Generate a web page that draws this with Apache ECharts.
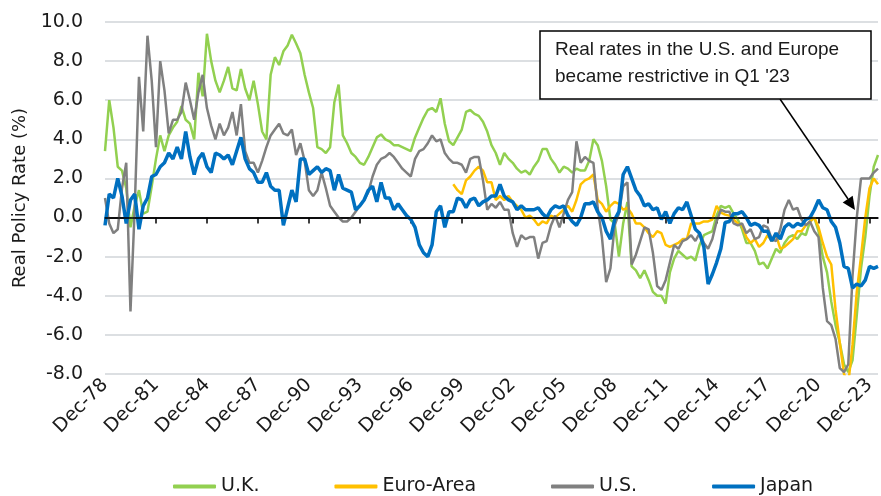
<!DOCTYPE html>
<html>
<head>
<meta charset="utf-8">
<script src="https://cdn.jsdelivr.net/npm/echarts@6/dist/echarts.min.js"></script>
<style>
  html, body { margin: 0; padding: 0; background: #fff; }
  #chart { width: 881px; height: 496px; }
</style>
</head>
<body>
<div id="chart"></div>
<script>
// quarterly observations, Dec-78 .. Jun-24
const tickLabels = ['Dec-78', 'Dec-81', 'Dec-84', 'Dec-87', 'Dec-90', 'Dec-93', 'Dec-96', 'Dec-99',
  'Dec-02', 'Dec-05', 'Dec-08', 'Dec-11', 'Dec-14', 'Dec-17', 'Dec-20', 'Dec-23'];

const uk = [
  3.4, 6.0, 4.6, 2.6, 2.4, 1.5, -0.5, 0.6, 1.4, 0.2,
  0.3, 1.6, 3.0, 4.2, 3.4, 4.2, 4.6, 4.9, 5.7, 5.0,
  4.8, 4.0, 7.4, 6.2, 9.4, 8.0, 7.0, 6.4, 7.0, 7.7,
  6.6, 6.5, 7.6, 6.6, 6.0, 7.0, 5.8, 4.4, 4.0, 7.3,
  8.2, 7.8, 8.5, 8.8, 9.35, 8.9, 8.4, 7.3, 6.4, 5.6,
  3.6, 3.5, 3.3, 3.6, 5.9, 6.8, 4.2, 3.8, 3.3, 3.1,
  2.8, 2.7, 3.1, 3.6, 4.1, 4.25, 4.0, 3.9, 3.7, 3.7,
  3.6, 3.5, 3.4, 4.1, 4.6, 5.1, 5.5, 5.6, 5.4, 6.1,
  4.8, 3.9, 3.7, 4.1, 4.5, 5.4, 5.5, 5.3, 5.2, 4.9,
  4.4, 3.7, 3.3, 2.7, 3.3, 3.0, 2.8, 2.5, 2.3, 2.4,
  2.2, 2.6, 2.9, 3.5, 3.5, 3.0, 2.7, 2.3, 2.6, 2.5,
  2.3, 2.5, 2.4, 2.4, 2.9, 4.0, 3.7, 2.9, 1.6, -0.1,
  -0.3, -2.0, -0.3, 0.8, -2.5, -2.7, -3.1, -2.7, -3.2, -3.8,
  -4.0, -4.0, -4.4, -2.8, -2.1, -1.7, -1.9, -2.1, -2.0, -2.2,
  -1.4, -0.9, -0.8, -0.7, 0.1, 0.6, 0.5, 0.6, 0.2, -0.1,
  -0.6, -1.3, -1.3, -1.7, -2.4, -2.3, -2.6, -2.1, -1.6, -1.8,
  -1.3, -1.0, -0.9, -1.1, -0.8, -0.9, -0.2, 0.0, -0.7, -2.0,
  -2.8, -4.3, -5.5, -6.4, -7.5, -7.9, -7.3, -5.0, -2.6, -1.0,
  1.1, 2.6, 3.2
];

// euro area starts Jun-99 (83rd quarter)
const euroStart = 82;
const euroArea = [
  1.7, 1.4, 1.2, 1.9, 2.1, 2.4, 2.6, 2.4,
  1.8, 1.8, 0.9, 1.1, 0.9, 1.1, 0.8, 0.6, 0.4, 0.0,
  0.1, -0.1, -0.4, -0.2, -0.3, 0.1, 0.0, 0.2, 0.4, 0.6,
  0.3, 0.9, 1.7, 1.9, 2.0, 2.2, 0.9, 0.7, 0.3, 0.6,
  0.8, 0.7, 0.4, 0.5, 0.2, -0.3, -0.3, -0.5, -0.8, -1.0,
  -0.7, -0.8, -1.4, -1.5, -1.4, -1.3, -1.1, -1.1, -0.3, -0.3,
  -0.3, -0.2, -0.2, -0.1, 0.6, 0.25, 0.15, 0.1, -0.1, -0.3,
  -0.4, -1.0, -1.3, -1.1, -1.5, -1.3, -0.9, -1.2, -0.9, -1.6,
  -1.5, -1.3, -1.1, -0.7, -0.7, -0.4, -0.2, 0.0, -0.5, -1.3,
  -2.0, -2.4, -4.7, -6.4, -8.0, -8.5, -6.5, -3.8, -2.0, 0.0,
  1.5, 2.0, 1.7
];

const us = [
  1.0, -0.3, -0.8, -0.6, 1.5, 2.8, -4.8, 0.5, 7.2, 4.4,
  9.3, 7.0, 3.6, 8.0, 6.5, 4.3, 5.0, 5.0, 5.4, 6.9,
  6.0, 5.0, 6.4, 7.3, 5.6, 4.7, 4.0, 4.8, 4.2, 4.6,
  5.4, 4.2, 5.8, 3.4, 2.8, 2.8, 2.3, 2.9, 3.6, 4.2,
  4.5, 4.8, 4.3, 4.2, 4.5, 3.2, 3.8, 2.9, 1.4, 1.1,
  1.4, 2.3, 1.5, 0.6, 0.3, 0.0, -0.2, -0.2, 0.0, 0.3,
  0.6, 0.9, 1.3, 2.1, 2.7, 3.0, 3.1, 3.3, 3.1, 2.8,
  2.5, 2.3, 2.1, 3.0, 3.4, 3.5, 3.8, 4.2, 3.9, 4.0,
  3.3, 3.0, 2.8, 2.8, 2.7, 2.3, 3.0, 3.1, 3.1, 1.9,
  0.4, 0.7, 0.5, 0.8, 0.4, 0.4, -0.8, -1.5, -0.9, -1.1,
  -1.0, -1.0, -2.1, -1.3, -1.2, -0.4, 0.1, -0.5, 0.2, 0.9,
  1.3, 3.9, 2.8, 3.1, 2.9, 2.8, 0.5, -1.0, -3.3, -2.6,
  -0.4, 0.2, 1.6, 1.8, -2.4, -1.9, -1.2, -0.5, -0.6, -1.8,
  -3.5, -3.7, -3.2, -2.3, -1.4, -1.6, -1.2, -1.1, -0.9, -1.2,
  -0.8, -1.3, -1.6, -1.1, -0.2, 0.4, 0.3, 0.3, -0.3, -0.4,
  -0.3, -0.8, -0.6, -1.1, -1.0, -0.4, -0.5, -1.1, -1.2, -0.6,
  0.4, 0.9, 0.4, 0.5, -0.1, -0.4, -0.2, -0.7, -1.0, -3.6,
  -5.3, -5.5, -6.2, -7.7, -7.9, -7.5, -3.0, 0.0, 2.0, 2.0,
  2.0, 2.3, 2.5
];

const japan = [
  -0.4, 1.2, 1.0, 2.0, 1.1, -0.3, 0.9, 1.2, -0.6, 0.6,
  1.0, 2.1, 2.2, 2.6, 2.8, 3.3, 3.0, 3.6, 3.0, 4.4,
  3.1, 2.2, 3.0, 3.3, 2.6, 2.3, 3.3, 3.2, 3.0, 3.2,
  2.7, 3.4, 4.1, 3.0, 2.5, 2.3, 1.8, 1.8, 2.3, 1.6,
  1.4, 1.4, -0.4, 0.5, 1.4, 0.8, 3.0, 3.0, 2.2, 2.4,
  2.6, 2.3, 2.5, 2.4, 1.4, 2.2, 1.5, 1.4, 1.3, 0.4,
  0.6, 0.9, 1.4, 1.6, 0.8, 1.8, 1.0, 1.0, 0.4, 0.7,
  0.4, 0.1, -0.1, -0.5, -1.4, -1.8, -2.0, -1.4, 0.3, 0.6,
  -0.5, 0.3, 0.3, 1.0, 0.9, 0.5, 0.9, 1.0, 0.6, 0.8,
  0.9, 1.1, 1.1, 1.7, 1.1, 0.9, 0.8, 0.4, 0.6, 0.4,
  0.4, 0.4, 0.5, 0.2, 0.0, 0.4, 0.6, 0.5, 0.6, 0.1,
  -0.2, -0.4, 0.0, 0.7, 0.7, 0.8, 0.3, 0.0, -0.7, -1.1,
  -0.1, 0.3, 2.2, 2.6, 2.0, 1.4, 1.1, 0.6, 0.7, 0.4,
  0.5, -0.1, 0.3, -0.3, 0.2, 0.5, 0.4, 0.8, 0.1, -0.6,
  -0.8, -1.5, -3.4, -2.9, -2.3, -1.6, -0.25, -0.2, 0.2, 0.2,
  0.3, 0.0, -0.4, -0.3, -0.4, -0.7, -0.7, -1.2, -0.8, -1.1,
  -0.5, -0.3, -0.5, -0.3, -0.4, -0.1, 0.0, 0.4, 0.9, 0.5,
  0.4, -0.2, -0.5, -1.3, -2.5, -2.6, -3.6, -3.4, -3.5, -3.2,
  -2.5, -2.6, -2.5
];

// category labels: one per quarter from Dec-78
const months = ['Dec', 'Mar', 'Jun', 'Sep'];
let categories = [];
for (let i = 0; i < uk.length; i++) {
  let yr = 1978 + Math.floor((i + 3) / 4);
  categories.push(months[i % 4] + '-' + String(yr).slice(2));
}

const euroData = new Array(euroStart).fill(null).concat(euroArea);

const axisFont = 'DejaVu Sans';
const showTick = (idx, val) => tickLabels.includes(val);
const plotBox = { left: 105, right: 3, top: 22, bottom: 122 };

const chart = echarts.init(document.getElementById('chart'));

let option = {
  animation: false,
  // grid 0 holds the lines, grid 1 (same box) only carries the date labels at the bottom
  grid: [plotBox, Object.assign({}, plotBox)],
  legend: {
    left: 168,
    top: 472,
    itemGap: 75,
    itemWidth: 43,
    itemHeight: 4,
    icon: 'roundRect',
    textStyle: { fontFamily: axisFont, fontSize: 19, color: '#1a1a1a' },
    data: ['U.K.', 'Euro-Area', 'U.S.', 'Japan']
  },
  xAxis: [
    {
      gridIndex: 0,
      type: 'category',
      data: categories,
      boundaryGap: false,
      z: 1,
      axisLine: { show: true, onZero: true, lineStyle: { color: '#000', width: 1.5 } },
      axisTick: { show: true, interval: showTick, length: 6, lineStyle: { color: '#000', width: 1.5 } },
      axisLabel: { show: false },
      splitLine: { show: false }
    },
    {
      gridIndex: 1,
      type: 'category',
      data: categories,
      boundaryGap: false,
      axisLine: { show: false, onZero: false },
      axisTick: { show: false },
      splitLine: { show: false },
      axisLabel: {
        interval: showTick,
        rotate: 45,
        margin: 8,
        fontFamily: axisFont,
        fontSize: 19,
        color: '#1a1a1a'
      }
    }
  ],
  yAxis: [
    {
      gridIndex: 0,
      type: 'value',
      min: -8,
      max: 10,
      interval: 2,
      name: 'Real Policy Rate (%)',
      nameLocation: 'middle',
      nameGap: 50,
      nameTextStyle: { fontFamily: axisFont, fontSize: 18, color: '#1a1a1a' },
      axisLine: { show: false },
      axisTick: { show: false },
      splitLine: { lineStyle: { color: '#d0d4d9', width: 1.5 } },
      axisLabel: {
        margin: 22,
        fontFamily: axisFont,
        fontSize: 19,
        color: '#1a1a1a',
        formatter: v => v.toFixed(1)
      }
    },
    {
      gridIndex: 1,
      type: 'value',
      min: -8,
      max: 10,
      show: false
    }
  ],
  series: [
    {
      // carrier for the black zero line, drawn beneath the data lines
      name: 'zero',
      type: 'line',
      data: categories.map(() => null),
      showSymbol: false,
      silent: true,
      markLine: {
        silent: true,
        symbol: ['none', 'none'],
        label: { show: false },
        lineStyle: { color: '#000', width: 1.5, type: 'solid' },
        data: [{ yAxis: 0 }]
      }
    },
    { name: 'U.K.', type: 'line', data: uk, showSymbol: false, color: '#92d050', lineStyle: { width: 2.5 } },
    { name: 'Euro-Area', type: 'line', data: euroData, showSymbol: false, color: '#ffc000', lineStyle: { width: 2.5 } },
    { name: 'U.S.', type: 'line', data: us, showSymbol: false, color: '#808080', lineStyle: { width: 2.5 } },
    { name: 'Japan', type: 'line', data: japan, showSymbol: false, color: '#0070c0', lineStyle: { width: 3.5 } }
  ],
  graphic: [
    {
      type: 'rect',
      shape: { x: 540, y: 31, width: 331, height: 68 },
      style: { fill: '#fff', stroke: '#000', lineWidth: 1.5 },
      z: 10
    },
    {
      type: 'text',
      left: 555,
      top: 36,
      style: {
        text: "Real rates in the U.S. and Europe\nbecame restrictive in Q1 '23",
        font: '19px "Liberation Sans"',
        lineHeight: 27,
        fill: '#1a1a1a'
      },
      z: 11
    },
    {
      type: 'line',
      shape: { x1: 780, y1: 99, x2: 848, y2: 199 },
      style: { stroke: '#000', lineWidth: 1.5 },
      z: 10
    },
    {
      type: 'polygon',
      shape: { points: [[855, 210], [842.7, 202.6], [852.7, 195.8]] },
      style: { fill: '#000' },
      z: 10
    }
  ]
};

chart.setOption(option);
</script>
</body>
</html>
